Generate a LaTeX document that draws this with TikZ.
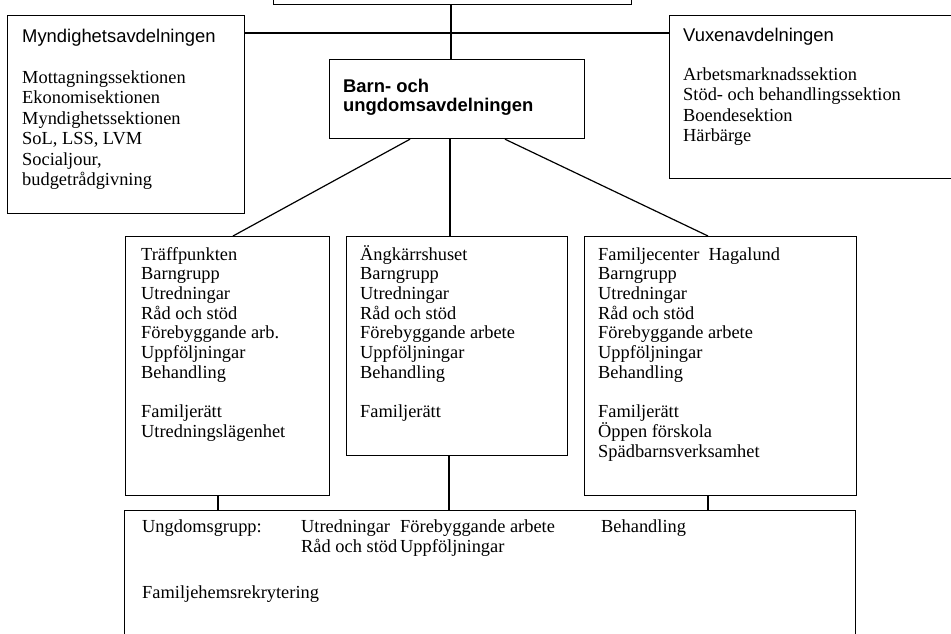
\documentclass[tikz,border=0pt]{standalone}
\usepackage{fontspec}
\setmainfont{Liberation Serif}
\setsansfont{Liberation Sans}
% stacked lines with a fixed baseline distance; the first baseline is the block's baseline
\newcommand{\textblock}[2]{\vtop{\baselineskip=#1\lineskiplimit=-50pt\lineskip=0pt\relax #2}}
\newcommand{\li}[1]{\hbox{#1}}
\begin{document}
\begin{tikzpicture}[x=1pt,y=-1pt,
  box/.style={draw, line width=1.2pt, rectangle, inner sep=0pt, anchor=north west},
  link/.style={line width=1.2pt},
  serif/.style={font=\fontsize{18.4}{20.5}\selectfont, anchor=base west, inner sep=0pt},
  sans/.style={font=\sffamily\fontsize{18.4}{20.5}\selectfont, anchor=base west, inner sep=0pt},
  sansbold/.style={font=\sffamily\bfseries\fontsize{18.4}{20.5}\selectfont, anchor=base west, inner sep=0pt},
]
\useasboundingbox (0,0) rectangle (951,633);
\clip (0,0) rectangle (951,633);

% boxes
\node[box, minimum width=358pt, minimum height=34pt] (top) at (273,-30) {};
\node[box, minimum width=237pt, minimum height=198pt] (mynd) at (7,15) {};
\node[box, minimum width=300pt, minimum height=163pt] (vux) at (669,15) {};
\node[box, minimum width=255pt, minimum height=79pt] (barn) at (329,59) {};
\node[box, minimum width=204pt, minimum height=259pt] (traff) at (125,236) {};
\node[box, minimum width=221pt, minimum height=219pt] (angk) at (346,236) {};
\node[box, minimum width=272pt, minimum height=259pt] (famil) at (584,236) {};
\node[box, minimum width=731pt, minimum height=140pt] (ungd) at (124,510) {};

% connector positions
\coordinate (hline) at (0,33);
\coordinate (xtop) at (451,0);
\coordinate (xbl) at (410,0);
\coordinate (xtl) at (233,0);
\coordinate (xbm) at (450,0);
\coordinate (xbr) at (505,0);
\coordinate (xtr) at (708,0);
\coordinate (xdl) at (218,0);
\coordinate (xdm) at (449,0);
\coordinate (xdr) at (708,0);

% connectors
\draw[link] (mynd.east |- hline) -- (vux.west |- hline);
\draw[link] (xtop |- top.south) -- (xtop |- barn.north);
\draw[link] (xbl |- barn.south) -- (xtl |- traff.north);
\draw[link] (xbm |- barn.south) -- (xbm |- angk.north);
\draw[link] (xbr |- barn.south) -- (xtr |- famil.north);
\draw[link] (xdl |- traff.south) -- (xdl |- ungd.north);
\draw[link] (xdm |- angk.south) -- (xdm |- ungd.north);
\draw[link] (xdr |- famil.south) -- (xdr |- ungd.north);

% texts
\node[sans] (myndt) at (22,42.7) {Myndighetsavdelningen};
\node[serif] (myndl) at (22,83) {\textblock{20.5pt}{%
  \li{Mottagningssektionen}\li{Ekonomisektionen}\li{Myndighetssektionen}%
  \li{SoL, LSS, LVM}\li{Socialjour,}\li{budgetrådgivning}}};

\node[sans] (vuxt) at (683,41.7) {Vuxenavdelningen};
\node[serif] (vuxl) at (683,80) {\textblock{20.5pt}{%
  \li{Arbetsmarknadssektion}\li{Stöd- och behandlingssektion}\li{Boendesektion}\li{Härbärge}}};

\node[sansbold] (barnt) at (343,92) {\textblock{19pt}{\li{Barn- och}\li{ungdomsavdelningen}}};

\node[serif] (traffl) at (141,260) {\textblock{19.7pt}{%
  \li{Träffpunkten}\li{Barngrupp}\li{Utredningar}\li{Råd och stöd}%
  \li{Förebyggande arb.}\li{Uppföljningar}\li{Behandling}\li{}%
  \li{Familjerätt}\li{Utredningslägenhet}}};

\node[serif] (angkl) at (360,260) {\textblock{19.7pt}{%
  \li{Ängkärrshuset}\li{Barngrupp}\li{Utredningar}\li{Råd och stöd}%
  \li{Förebyggande arbete}\li{Uppföljningar}\li{Behandling}\li{}%
  \li{Familjerätt}}};

\node[serif] (famill) at (598,260) {\textblock{19.7pt}{%
  \li{Familjecenter\ \ Hagalund}\li{Barngrupp}\li{Utredningar}\li{Råd och stöd}%
  \li{Förebyggande arbete}\li{Uppföljningar}\li{Behandling}\li{}%
  \li{Familjerätt}\li{Öppen förskola}\li{Spädbarnsverksamhet}}};

\node[serif] (u1) at (142,532) {Ungdomsgrupp:};
\node[serif] (u2) at (301,532) {Utredningar};
\node[serif] (u3) at (301,552) {Råd och stöd};
\node[serif] (u4) at (400,532) {Förebyggande arbete};
\node[serif] (u5) at (400,552) {Uppföljningar};
\node[serif] (u6) at (601,532) {Behandling};
\node[serif] (u7) at (142,598) {Familjehemsrekrytering};
\end{tikzpicture}
\end{document}
